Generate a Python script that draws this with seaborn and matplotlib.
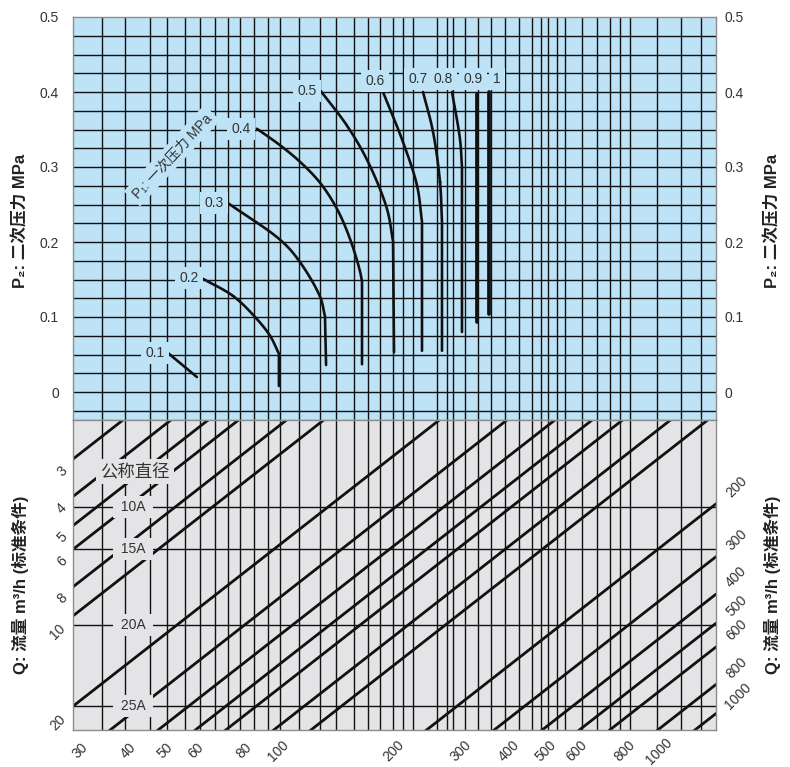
import numpy as np
import pandas as pd
import seaborn as sns
import matplotlib.pyplot as plt

# ---------------------------------------------------------------
# Data
# ---------------------------------------------------------------

# x axis is the log flow scale shared by both panels
x_lo, x_hi = 29.64, 1401

# vertical grid lines (same in both panels)
grid_x = [35.3, 40.5, 47.0, 52.1, 58.0, 63.5, 69.4, 75.1, 80.7, 87.7, 95.5,
          102.6, 114.9, 130.4, 143.5, 159.9, 173.8, 186.8, 202, 214.5, 227.7,
          262.9, 279.2, 289.4, 311, 336.2, 363.6, 395.4, 430, 464.7, 490.6,
          511.6, 540, 566, 627, 686, 742, 788, 836, 983, 1136, 1280]

# upper panel: P2 grid and ticks
p2_grid = [-0.025, 0, 0.025, 0.05, 0.075, 0.1, 0.125, 0.15, 0.175, 0.2, 0.225,
           0.25, 0.275, 0.3, 0.325, 0.35, 0.375, 0.4, 0.425, 0.45, 0.475]
p2_ticks = [0, 0.1, 0.2, 0.3, 0.4, 0.5]
p2_tick_labels = ['0', '0.1', '0.2', '0.3', '0.4', '0.5']

# P1 curves (last point = bottom of the vertical tail)
p1_names = ['0.1', '0.2', '0.3', '0.4', '0.5', '0.6', '0.7', '0.8', '0.9', '1']
p1_x = [[52.4, 62.3],
        [64.6, 77.4, 88.3, 96.6, 101.9, 101.9],
        [75.5, 102.6, 114.2, 130.4, 134.3, 135.2],
        [89.3, 102.6, 115.6, 130.4, 144.4, 156.1, 165.7, 167.7, 167.7],
        [131.1, 153.3, 173.8, 194.8, 202, 203.2],
        [190.2, 214.5, 233.3, 240.3, 240.3],
        [241.8, 256.7, 267.7, 270.9, 270.9],
        [287.7, 301.8, 305.4, 305.4],
        [334.2, 334.2],
        [359.2, 359.2]]
p1_y = [[0.052, 0.020],
        [0.151, 0.128, 0.100, 0.075, 0.051, 0.008],
        [0.251, 0.203, 0.177, 0.127, 0.101, 0.036],
        [0.351, 0.329, 0.307, 0.279, 0.244, 0.204, 0.161, 0.147, 0.037],
        [0.401, 0.355, 0.307, 0.244, 0.201, 0.053],
        [0.400, 0.333, 0.275, 0.227, 0.055],
        [0.400, 0.347, 0.280, 0.227, 0.055],
        [0.400, 0.337, 0.300, 0.080],
        [0.397, 0.093],
        [0.400, 0.104]]
p1_label_x = [48.5, 59.4, 69.0, 81.2, 120.6, 181.2, 234.7, 272.6, 326.4, 376.8]
p1_label_y = [0.052, 0.152, 0.252, 0.351, 0.401, 0.415, 0.417, 0.417, 0.417, 0.417]

# lower panel: flow lines Q = x * y / k_flow
k_flow = 30
q_lines = [3, 4, 5, 6, 8, 10, 20, 30, 40, 50, 60, 80, 100,
           200, 300, 400, 500, 600, 800, 1000]
q_left = [3, 4, 5, 6, 8, 10, 20]
q_bottom = [30, 40, 50, 60, 80, 100, 200, 300, 400, 500, 600, 800, 1000]
q_right = [200, 300, 400, 500, 600, 800, 1000]
low_top, low_bottom = 2.25, 24.3

# nominal diameter lines
size_names = ['10A', '15A', '20A', '25A']
size_y = [4.39, 6.06, 10.85, 20.2]

# ---------------------------------------------------------------
# Drawing
# ---------------------------------------------------------------
sns.set_theme(style='white')
plt.rcParams['font.family'] = ['Liberation Sans', 'Noto Sans CJK SC', 'DejaVu Sans']

blue = '#bee2f6'
grey = '#e4e3e6'
ink = '#111111'
txt = '#333333'


def smooth(xs, ys, n=30):
    # centripetal Catmull-Rom, worked out in screen-like units
    if len(xs) < 3:
        return np.array(xs, float), np.array(ys, float)
    P = np.column_stack([np.log10(xs) * 384, np.array(ys) * 750])
    P = np.vstack([2 * P[0] - P[1], P, 2 * P[-1] - P[-2]])
    out = []
    for i in range(1, len(P) - 2):
        p0, p1, p2, p3 = P[i - 1], P[i], P[i + 1], P[i + 2]
        t0 = 0.0
        t1 = t0 + np.linalg.norm(p1 - p0) ** 0.5
        t2 = t1 + np.linalg.norm(p2 - p1) ** 0.5
        t3 = t2 + np.linalg.norm(p3 - p2) ** 0.5
        t = np.linspace(t1, t2, n)[:, None]
        a1 = (t1 - t) / (t1 - t0) * p0 + (t - t0) / (t1 - t0) * p1
        a2 = (t2 - t) / (t2 - t1) * p1 + (t - t1) / (t2 - t1) * p2
        a3 = (t3 - t) / (t3 - t2) * p2 + (t - t2) / (t3 - t2) * p3
        b1 = (t2 - t) / (t2 - t0) * a1 + (t - t0) / (t2 - t0) * a2
        b2 = (t3 - t) / (t3 - t1) * a2 + (t - t1) / (t3 - t1) * a3
        out.append((t2 - t) / (t2 - t1) * b1 + (t - t1) / (t2 - t1) * b2)
    out = np.vstack(out)
    return 10 ** (out[:, 0] / 384), out[:, 1] / 750


fig = plt.figure(figsize=(7.9, 7.67), dpi=100)
ax1 = fig.add_axes([73 / 790, 1 - 420 / 767, 643 / 790, 403 / 767])
ax2 = fig.add_axes([73 / 790, 1 - 730 / 767, 643 / 790, 310 / 767])

# ---- upper panel
ax1.set_facecolor(blue)
ax1.set_xscale('log')
ax1.set_xlim(x_lo, x_hi)
ax1.set_ylim(0.5 - 403 / 750, 0.5)
for gx in grid_x:
    ax1.axvline(gx, color=ink, lw=1.0, zorder=1)
for gy in p2_grid:
    ax1.axhline(gy, color=ink, lw=1.0, zorder=1)

for name, xs, ys in zip(p1_names, p1_x, p1_y):
    if len(xs) > 2:
        sx, sy = smooth(xs[:-1], ys[:-1])
        sx = np.append(sx, xs[-1])
        sy = np.append(sy, ys[-1])
    else:
        sx, sy = np.array(xs), np.array(ys)
    lw = 2.7 if name in ('0.9', '1') else 1.9
    sns.lineplot(x=sx, y=sy, sort=False, estimator=None, color=ink,
                 lw=lw, ax=ax1, zorder=3, legend=False)

for name, lx, ly in zip(p1_names, p1_label_x, p1_label_y):
    ax1.text(lx, ly, name, ha='center', va='center', fontsize=10, color=txt,
             zorder=5, bbox=dict(boxstyle='square,pad=0.3', fc=blue, ec='none'))

ax1.text(53.7, 0.315, 'P₁: 一次压力 MPa', rotation=47, ha='center', va='center',
         fontsize=10, color=txt, zorder=5,
         bbox=dict(boxstyle='square,pad=0.3', fc=blue, ec='none'))

ax1.set_xticks([])
ax1.set_xticks([], minor=True)
ax1.set_yticks(p2_ticks)
ax1.set_yticklabels(p2_tick_labels)
ax1.tick_params(axis='y', length=0, labelsize=10, labelcolor=txt,
                labelleft=True, labelright=False, pad=10)
ax1.set_xlabel('')
ax1.set_ylabel('')

# right-hand P2 scale sits closer to the frame
ax1r = ax1.twinx()
ax1r.set_ylim(ax1.get_ylim())
ax1r.set_yticks(p2_ticks)
ax1r.set_yticklabels(p2_tick_labels)
ax1r.tick_params(axis='y', length=0, labelsize=10, labelcolor=txt, pad=6)
ax1r.grid(False)
for sp in ax1r.spines.values():
    sp.set_visible(False)

# ---- lower panel
ax2.set_facecolor(grey)
ax2.set_xscale('log')
ax2.set_yscale('log')
ax2.set_xlim(x_lo, x_hi)
ax2.set_ylim(low_bottom, low_top)
for gx in grid_x:
    ax2.axvline(gx, color=ink, lw=1.0, zorder=1)
for sy in size_y:
    ax2.axhline(sy, color=ink, lw=1.0, zorder=1)

rows = []
for q in q_lines:
    for xv in (x_lo, x_hi):
        rows.append({'q': q, 'x': xv, 'y': k_flow * q / xv})
flow = pd.DataFrame(rows)
sns.lineplot(data=flow, x='x', y='y', units='q', estimator=None, color=ink,
             lw=2.0, ax=ax2, zorder=2, legend=False)

for name, sy in zip(size_names, size_y):
    ax2.text(42.5, sy, ' ' + name + ' ', ha='center', va='center', fontsize=10,
             color=txt, zorder=5,
             bbox=dict(boxstyle='square,pad=0.3', fc=grey, ec='none'))
ax2.text(43.0, 3.35, '公称直径', ha='center', va='center', fontsize=12.5,
         color=txt, zorder=5,
         bbox=dict(boxstyle='square,pad=0.25', fc=grey, ec='none'))

px = 0.72  # points per pixel
for q in q_left:
    s = str(q)
    d = 11 if len(s) == 1 else 15
    ax2.annotate(s, (x_lo, k_flow * q / x_lo), xytext=(-d * px, -(d + 1) * px),
                 textcoords='offset points', rotation=45, ha='center',
                 va='center', fontsize=10, color=txt, annotation_clip=False)
for q in q_bottom:
    s = str(q)
    d = 24 + 3 * len(s)
    ax2.annotate(s, (k_flow * q / low_bottom, low_bottom),
                 xytext=(-d * px, -21 * px), textcoords='offset points',
                 rotation=45, ha='center', va='center', fontsize=10, color=txt,
                 annotation_clip=False)
for q in q_right:
    s = str(q)
    ax2.annotate(s, (x_hi, k_flow * q / x_hi),
                 xytext=((16 + 1.5 * len(s)) * px, 17 * px),
                 textcoords='offset points', rotation=45, ha='center',
                 va='center', fontsize=10, color=txt, annotation_clip=False)

ax2.set_xticks([])
ax2.set_xticks([], minor=True)
ax2.set_yticks([])
ax2.set_yticks([], minor=True)
ax2.set_xlabel('')
ax2.set_ylabel('')

for ax in (ax1, ax2):
    for sp in ax.spines.values():
        sp.set_color('#8c8c8c')
        sp.set_linewidth(1.0)
        sp.set_zorder(6)

# axis titles
for xf in (20 / 790, 772 / 790):
    fig.text(xf, 1 - 221 / 767, 'P₂: 二次压力 MPa', rotation=90, ha='center',
             va='center', fontsize=12, fontweight='bold', color='#222222')
    fig.text(xf, 1 - 585 / 767, 'Q: 流量 m³/h (标准条件)', rotation=90,
             ha='center', va='center', fontsize=12, fontweight='bold',
             color='#222222')

fig.savefig('out.png', dpi=100)
